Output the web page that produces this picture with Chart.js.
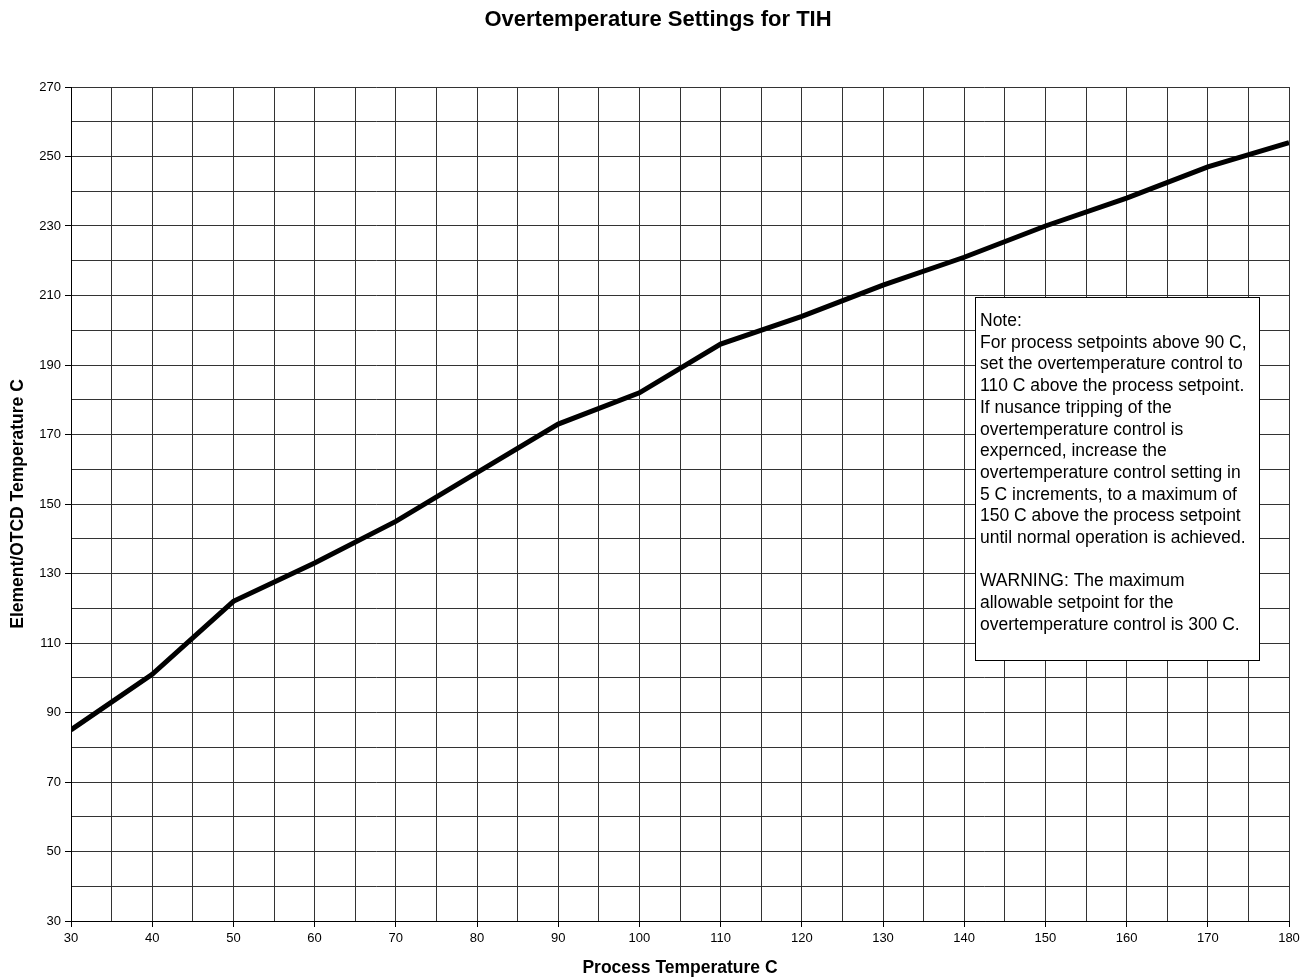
<!DOCTYPE html>
<html>
<head>
<meta charset="utf-8">
<script src="https://cdn.jsdelivr.net/npm/chart.js@4/dist/chart.umd.min.js"></script>
<style>
  html, body { margin: 0; padding: 0; background: #fff; }
  #wrap { width: 1312px; height: 979px; }
</style>
</head>
<body>
<div id="wrap"><canvas id="chart" width="1312" height="979"></canvas></div>
<script>
const chartTitle = 'Overtemperature Settings for TIH';
const processTemps = [30, 40, 50, 60, 70, 80, 90, 100, 110, 120, 130, 140, 150, 160, 170, 180];
const otcdTemps = [85, 101, 122, 133, 145, 159, 173, 182, 196, 204, 213, 221, 230, 238, 247, 254];
const noteLines = [
    "Note:",
    "For process setpoints above 90 C,",
    "set the overtemperature control to",
    "110 C above the process setpoint.",
    "If nusance tripping of the",
    "overtemperature control is",
    "expernced, increase the",
    "overtemperature control setting in",
    "5 C increments, to a maximum of",
    "150 C above the process setpoint",
    "until normal operation is achieved.",
    "",
    "WARNING: The maximum",
    "allowable setpoint for the",
    "overtemperature control is 300 C."
];

const FONT = "'Liberation Sans', Arial, sans-serif";

// title centred on the page + note box over the plot
const extras = {
    id: 'extras',
    afterDatasetsDraw(chart) {
        const ctx = chart.ctx;
        ctx.save();
        ctx.fillStyle = '#000';
        ctx.font = `bold 22px ${FONT}`;
        ctx.textAlign = 'center';
        ctx.textBaseline = 'middle';
        ctx.fillText(chartTitle, 658, 20);

        const x = 975, y = 297, w = 284, h = 363;
        ctx.fillStyle = '#fff';
        ctx.fillRect(x, y, w, h);
        ctx.strokeStyle = '#000';
        ctx.lineWidth = 1;
        ctx.strokeRect(x + 0.5, y + 0.5, w, h);
        ctx.fillStyle = '#000';
        ctx.font = `17.5px ${FONT}`;
        ctx.textAlign = 'left';
        ctx.textBaseline = 'alphabetic';
        noteLines.forEach((line, i) => {
            ctx.fillText(line, x + 5, y + 29 + i * 21.7);
        });
        ctx.restore();
    }
};

const points = processTemps.map((t, i) => ({ x: t, y: otcdTemps[i] }));

new Chart(document.getElementById("chart").getContext('2d'), {
    type: 'line',
    data: {
        datasets: [{
            data: points,
            borderColor: '#000',
            borderWidth: 5,
            pointRadius: 0,
            tension: 0,
            fill: false,
        }],
    },
    options: {
        responsive: false,
        animation: false,
        layout: { padding: { left: 0, right: 23, top: 87, bottom: 0 } },
        plugins: {
            legend: { display: false },
            tooltip: { enabled: false },
            title: { display: false },
        },
        scales: {
            x: {
                type: 'linear',
                min: 30,
                max: 180,
                afterFit: scale => { scale.height = 58; },
                ticks: {
                    stepSize: 5,
                    autoSkip: false,
                    maxRotation: 0,
                    color: '#000',
                    padding: 4,
                    font: { family: FONT, size: 13 },
                    callback: v => (v % 10 === 0 ? v : ''),
                },
                grid: {
                    color: '#333',
                    lineWidth: 1,
                    tickLength: 6,
                    tickColor: c => (c.tick && c.tick.value % 10 === 0 ? '#000' : 'rgba(0,0,0,0)'),
                },
                border: { color: '#000', width: 1 },
                title: {
                    display: true,
                    text: 'Process Temperature C',
                    color: '#000',
                    font: { family: FONT, size: 17.5, weight: 'bold' },
                    padding: { top: 0, bottom: 0 },
                },
            },
            y: {
                type: 'linear',
                min: 30,
                max: 270,
                afterFit: scale => { scale.width = 71; },
                ticks: {
                    stepSize: 10,
                    autoSkip: false,
                    color: '#000',
                    padding: 4,
                    font: { family: FONT, size: 13 },
                    callback: v => ((v - 30) % 20 === 0 ? v : ''),
                },
                grid: {
                    color: '#333',
                    lineWidth: 1,
                    tickLength: 6,
                    tickColor: c => (c.tick && (c.tick.value - 30) % 20 === 0 ? '#000' : 'rgba(0,0,0,0)'),
                },
                border: { color: '#000', width: 1 },
                title: {
                    display: true,
                    text: 'Element/OTCD Temperature C',
                    color: '#000',
                    font: { family: FONT, size: 17.5, weight: 'bold' },
                    padding: { top: 7.5, bottom: 7.5 },
                },
            },
        },
    },
    plugins: [extras],
});
</script>
</body>
</html>
